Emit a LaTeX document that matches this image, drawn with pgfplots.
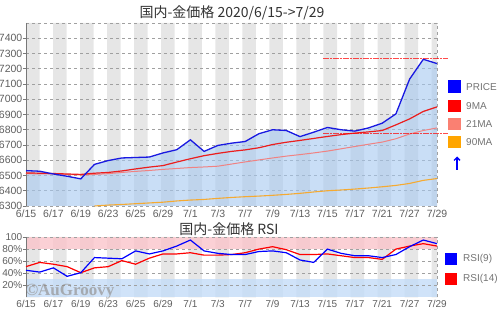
\documentclass[border=0pt]{standalone}
\usepackage{fontspec}
\setmainfont{Liberation Sans}
\newfontfamily\cjk{Noto Sans CJK JP}
\newfontfamily\wmfont{Liberation Serif}
\usepackage{pgfplots}
\usepackage{pgfplotstable}
\pgfplotsset{compat=1.18}
\usetikzlibrary{arrows.meta}

\definecolor{priceblue}{RGB}{25,25,225}
\definecolor{maninered}{RGB}{235,30,30}
\definecolor{ma21}{RGB}{240,130,130}
\definecolor{ma90}{RGB}{245,170,50}
\definecolor{legblue}{RGB}{0,0,255}
\definecolor{legred}{RGB}{255,0,0}
\definecolor{legsalmon}{RGB}{250,128,114}
\definecolor{legorange}{RGB}{255,165,0}
\definecolor{stripegray}{RGB}{230,230,230}
\definecolor{pricefill}{RGB}{165,200,240}
\definecolor{rsipink}{RGB}{250,196,202}
\definecolor{rsiblue}{RGB}{196,220,248}
\definecolor{gridgray}{RGB}{160,160,160}
\definecolor{tickgray}{RGB}{95,95,95}
\definecolor{labgray}{RGB}{115,115,115}
\definecolor{titlegray}{RGB}{50,50,50}
\definecolor{axgray}{RGB}{120,120,120}
\definecolor{wmgray}{RGB}{140,135,130}

\pgfplotstableread{
i p m9 m21
0 6532 6517 6512
1 6528 6515 6511
2 6510 6513 6510
3 6495 6510 6507
4 6478 6507 6503
5 6573 6515 6507
6 6598 6520 6512
7 6615 6530 6520
8 6618 6543 6527
9 6621 6555 6533
10 6648 6565 6540
11 6669 6588 6546
12 6734 6610 6552
13 6658 6630 6556
14 6697 6645 6561
15 6712 6658 6575
16 6723 6668 6589
17 6774 6682 6602
18 6800 6703 6615
19 6795 6718 6627
20 6755 6730 6637
21 6784 6743 6648
22 6815 6756 6660
23 6800 6768 6675
24 6791 6778 6690
25 6812 6786 6705
26 6843 6795 6719
27 6904 6832 6741
28 7132 6871 6772
29 7262 6920 6795
30 7234 6950 6812
}\maintab

\pgfplotstableread{
i m90
5 6300
6 6306
7 6310
8 6315
9 6320
10 6325
11 6333
12 6339
13 6343
14 6350
15 6356
16 6361
17 6365
18 6370
19 6376
20 6383
21 6392
22 6400
23 6405
24 6411
25 6418
26 6426
27 6435
28 6448
29 6468
30 6480
}\matab

\pgfplotstableread{
i r9 r14
0 45 51
1 42 58
2 49 55
3 35 51
4 41 41
5 66 49
6 65 51
7 64 61
8 77 55
9 72 65
10 77 72
11 85 72
12 95 74
13 77 70
14 73 70
15 71 71
16 71 74
17 76 80
18 77 84
19 74 79
20 62 71
21 58 71
22 80 72
23 73 69
24 69 66
25 69 66
26 66 63
27 71 80
28 84 85
29 95 89
30 89 85
}\rsitab

\newcommand{\stripes}[2]{%
  \fill[stripegray]
   (axis cs:0,#1) rectangle (axis cs:0.987,#2)
   (axis cs:1.974,#1) rectangle (axis cs:2.961,#2)
   (axis cs:3.948,#1) rectangle (axis cs:4.935,#2)
   (axis cs:5.922,#1) rectangle (axis cs:6.909,#2)
   (axis cs:7.896,#1) rectangle (axis cs:8.883,#2)
   (axis cs:9.870,#1) rectangle (axis cs:10.857,#2)
   (axis cs:11.844,#1) rectangle (axis cs:12.831,#2)
   (axis cs:13.818,#1) rectangle (axis cs:14.805,#2)
   (axis cs:15.792,#1) rectangle (axis cs:16.779,#2)
   (axis cs:17.766,#1) rectangle (axis cs:18.753,#2)
   (axis cs:19.740,#1) rectangle (axis cs:20.727,#2)
   (axis cs:21.714,#1) rectangle (axis cs:22.701,#2)
   (axis cs:23.688,#1) rectangle (axis cs:24.675,#2)
   (axis cs:25.662,#1) rectangle (axis cs:26.649,#2)
   (axis cs:27.636,#1) rectangle (axis cs:28.623,#2)
   (axis cs:29.610,#1) rectangle (axis cs:30,#2);}

\pgfplotsset{
  common/.style={
    set layers,
    scale only axis,
    width=411pt,
    xmin=0, xmax=30,
    clip=false,
    axis line style={draw=none},
    xtick={0,2,...,30},
    xticklabels={6/15,6/17,6/19,6/23,6/25,6/29,7/1,7/3,7/7,7/9,7/13,7/15,7/17,7/21,7/27,7/29},
    xtick style={draw=none},
    ytick pos=left,
    tick align=outside,
    major tick length=3pt,
    ytick style={draw=axgray, line width=0.5pt},
    ymajorgrids,
    grid style={dash pattern=on 3pt off 3pt, gridgray, line width=0.5pt},
    tick label style={font=\fontsize{10.5}{12}\selectfont, text=tickgray},
    xticklabel style={anchor=north, inner sep=0pt, yshift=-1pt},
    yticklabel style={anchor=east, inner sep=0.5pt},
    scaled y ticks=false,
    /pgf/number format/1000 sep={},
    /pgf/number format/assume math mode=true,
  }
}

\begin{document}
\begin{tikzpicture}[x=1pt,y=1pt]

% main price chart
\begin{axis}[common,
  at={(26pt,104pt)}, anchor=south west,
  height=183pt,
  ymin=6300, ymax=7500,
  ytick={6300,6400,...,7400},
]
\begin{pgfonlayer}{axis background}
\stripes{6300}{7500}
\end{pgfonlayer}
\addplot[draw=none, fill=pricefill, fill opacity=0.6, forget plot] coordinates {
(0,6300) (0,6532) (1,6528) (2,6510) (3,6495) (4,6478) (5,6573) (6,6598) (7,6615)
(8,6618) (9,6621) (10,6648) (11,6669) (12,6734) (13,6658) (14,6697) (15,6712)
(16,6723) (17,6774) (18,6800) (19,6795) (20,6755) (21,6784) (22,6815) (23,6800)
(24,6791) (25,6812) (26,6843) (27,6904) (28,7132) (29,7262) (30,7234) (30,6300)};
\draw[gridgray, dash pattern=on 3pt off 3pt, line width=0.5pt] (axis cs:0,7500) -- (axis cs:30,7500) -- (axis cs:30,6300);
\draw[axgray, line width=0.6pt] (axis cs:0,6300) -- (axis cs:0,7500);
\addplot[ma90, line width=1.1pt] table[x=i,y=m90]{\matab};
\addplot[ma21, line width=1.0pt] table[x=i,y=m21]{\maintab};
\addplot[maninered, line width=1.2pt] table[x=i,y=m9]{\maintab};
\addplot[priceblue, line width=1.3pt] table[x=i,y=p]{\maintab};
\addplot[legred, line width=1.4pt, opacity=0.7, dash pattern=on 6pt off 1pt on 2pt off 1pt] coordinates {(21.7,7266) (30.8,7266)};
\addplot[legred, line width=1.4pt, opacity=0.7, dash pattern=on 6pt off 1pt on 2pt off 1pt] coordinates {(21.7,6774) (30.8,6774)};
\end{axis}

% RSI chart
\begin{axis}[common,
  at={(26pt,12.5pt)}, anchor=south west,
  height=60.5pt,
  ymin=0, ymax=100,
  ytick={20,40,60,80,100},
  yticklabels={20\%,40\%,60\%,80\%,100},
  yticklabel style={font=\fontsize{10}{12}\selectfont},
  xticklabel style={font=\fontsize{10}{11}\selectfont, yshift=1pt},
]
\begin{pgfonlayer}{axis background}
\stripes{0}{100}
\fill[rsipink, opacity=0.8] (axis cs:0,80) rectangle (axis cs:30,100);
\fill[rsiblue, opacity=0.8] (axis cs:0,0) rectangle (axis cs:30,30);
\end{pgfonlayer}
\draw[gridgray, dash pattern=on 3pt off 3pt, line width=0.5pt] (axis cs:30,0) -- (axis cs:30,100);
\draw[axgray, line width=0.6pt] (axis cs:0,0) -- (axis cs:0,100);
\node[anchor=base west, inner sep=0pt, font=\wmfont\bfseries\fontsize{17}{18}\selectfont, text=wmgray, opacity=0.6] at (axis cs:-0.05,3) {©AuGroovy};
\addplot[legred, line width=1.2pt] table[x=i,y=r14]{\rsitab};
\addplot[legblue, line width=1.2pt] table[x=i,y=r9]{\rsitab};
\end{axis}

% titles
\node[font=\cjk\fontsize{14}{16}\selectfont, text=titlegray, inner sep=0pt] at (232,297) {国内-金価格 2020/6/15->7/29};
\node[font=\cjk\fontsize{14}{16}\selectfont, text=titlegray, inner sep=0pt] at (229,81) {国内-金価格 RSI};

% legends
\fill[legblue] (448,217) rectangle (461,229.5);
\fill[legred] (448,198) rectangle (461,210);
\fill[legsalmon] (448,180) rectangle (461,192);
\fill[legorange] (448,161.5) rectangle (461,173.5);
\node[anchor=west, inner sep=0pt, font=\fontsize{10}{12}\selectfont, text=labgray] at (466,223.3) {PRICE};
\node[anchor=west, inner sep=0pt, font=\fontsize{10}{12}\selectfont, text=labgray] at (466,204) {9MA};
\node[anchor=west, inner sep=0pt, font=\fontsize{10}{12}\selectfont, text=labgray] at (466,186) {21MA};
\node[anchor=west, inner sep=0pt, font=\fontsize{10}{12}\selectfont, text=labgray] at (466,167.5) {90MA};
\draw[legblue, line width=1.3pt, -{Straight Barb[length=3pt,width=6pt]}] (457,140) -- (457,153.5);

\fill[legblue] (445,45) rectangle (457,57);
\fill[legred] (445,25) rectangle (457,37);
\node[anchor=west, inner sep=0pt, font=\fontsize{10}{12}\selectfont, text=labgray] at (463,51) {RSI(9)};
\node[anchor=west, inner sep=0pt, font=\fontsize{10}{12}\selectfont, text=labgray] at (463,31) {RSI(14)};

\pgfresetboundingbox
\useasboundingbox (0,0) rectangle (500,310);
\end{tikzpicture}
\end{document}
